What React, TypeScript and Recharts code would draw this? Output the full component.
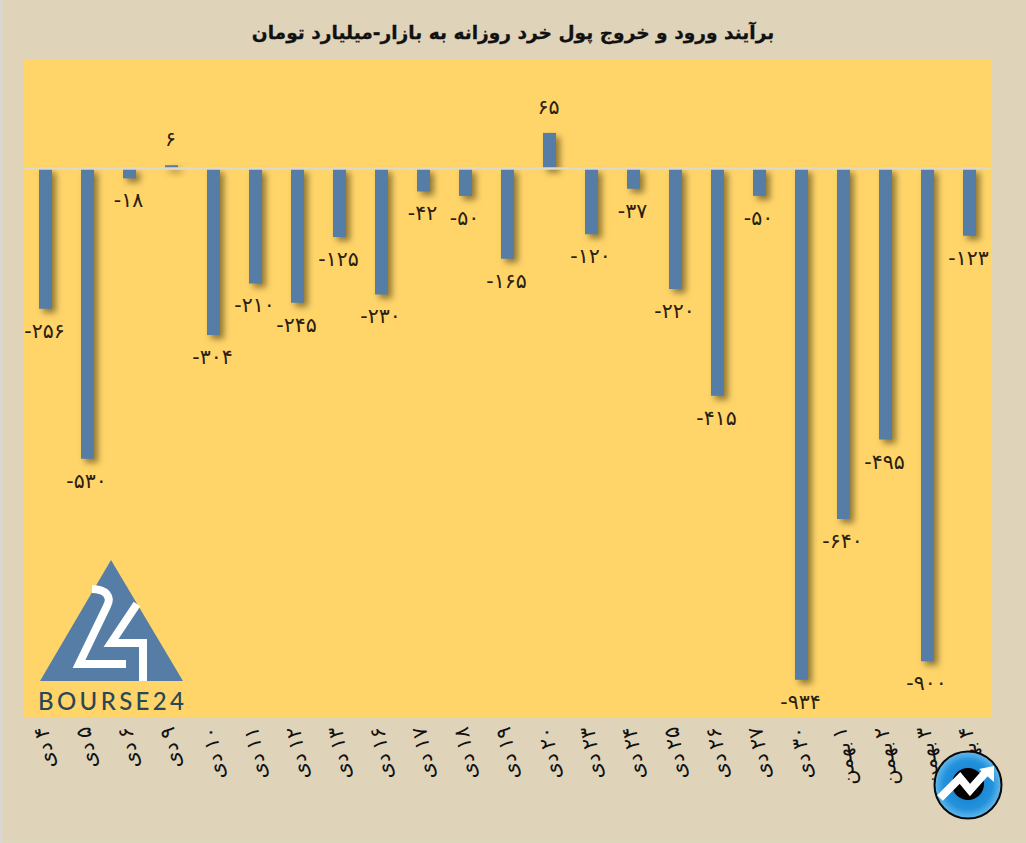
import React from "react";
import { BarChart, Bar, XAxis, YAxis, ReferenceLine, LabelList } from "recharts";

const categories = ["۴ دی","۵ دی","۶ دی","۹ دی","۱۰ دی","۱۱ دی","۱۲ دی","۱۳ دی","۱۶ دی","۱۷ دی","۱۸ دی","۱۹ دی","۲۰ دی","۲۳ دی","۲۴ دی","۲۵ دی","۲۶ دی","۲۷ دی","۳۰ دی","۱ بهمن","۲ بهمن","۳ بهمن","۴ بهمن"];
const values = [-256,-530,-18,6,-304,-210,-245,-125,-230,-42,-50,-165,65,-120,-37,-220,-415,-50,-934,-640,-495,-900,-123];
const TITLE = "برآیند ورود و خروج پول خرد روزانه به بازار-میلیارد تومان";
const data = categories.map((day, i) => ({ day, value: values[i] }));

const FONT = "'DejaVu Sans', sans-serif";
const fa = (v: number) => String(v).replace(/\d/g, (d) => "۰۱۲۳۴۵۶۷۸۹"[Number(d)]);

const Tick = (p: any) => (
  <text
    transform={`translate(${p.x - 4},${p.y + 3}) rotate(-100)`}
    textAnchor="start"
    direction="rtl"
    dominantBaseline="central"
    fontFamily={FONT}
    fontSize={21}
    wordSpacing={-2}
    fill="#111"
  >
    {p.payload.value}
  </text>
);

const ValueLabel = (p: any) => {
  const top = Math.min(p.y, p.y + p.height);
  const bottom = Math.max(p.y, p.y + p.height);
  const cx = p.x + p.width / 2 - 1;
  const y = p.value < 0 ? bottom + 22 : top - 26;
  return (
    <text x={cx} y={y} textAnchor="middle" dominantBaseline="central" direction="ltr" fontFamily={FONT} fontSize={20.5} letterSpacing={1.5} fill="#2a2010">
      {fa(p.value)}
    </text>
  );
};

const TriangleLogo = () => (
  <svg width={170} height={170} style={{ position: "absolute", left: 30, top: 550 }} viewBox="30 550 170 170">
    <polygon points="111,560 40,681 183,681" fill="#557DA6" />
    <path d="M92,589 C106,589 112,597 107,606 L79,664 L126,664" fill="none" stroke="#fff" strokeWidth={8} />
    <path d="M137,604 L111,643 L143,643 L143,681" fill="none" stroke="#fff" strokeWidth={8} />
    <text x={38} y={710} textLength={146} lengthAdjust="spacing" fontFamily="Lato, sans-serif" fontSize={24} fontWeight={500} fill="#2B4657">BOURSE24</text>
  </svg>
);

const CircleLogo = () => (
  <svg width={76} height={76} style={{ position: "absolute", left: 930, top: 747 }} viewBox="930 747 76 76">
    <defs>
      <radialGradient id="blueDisc" cx="50%" cy="50%" r="52%">
        <stop offset="0%" stopColor="#0F78C8" />
        <stop offset="70%" stopColor="#2392DC" />
        <stop offset="100%" stopColor="#6FC0EE" />
      </radialGradient>
    </defs>
    <circle cx={968} cy={785} r={33.5} fill="url(#blueDisc)" stroke="#0a0a0a" strokeWidth={2} />
    <circle cx={968} cy={784} r={16} fill="#000" />
    <path d="M940,798 L960,778 L970,790 L986,772" fill="none" stroke="#fff" strokeWidth={8} />
    <polygon points="994,766 979,769 994,782" fill="#fff" />
  </svg>
);

export default function App() {
  return (
    <div style={{ position: "absolute", left: 0, top: 0, width: 1026, height: 843, background: "#DFD4BA", overflow: "hidden", boxShadow: "inset 3px 0 3px -1px #d8d8d4" }}>
      <div style={{ position: "absolute", left: 24, top: 60, width: 968, height: 657, background: "#FFD469" }} />
      <div style={{ position: "absolute", left: 0, right: 0, top: 18, textAlign: "center", direction: "rtl", fontFamily: FONT, fontWeight: 700, fontSize: 18.6, lineHeight: "30px", color: "#111", WebkitTextStroke: "0.3px #111" }}>
        {TITLE}
      </div>
      <div style={{ position: "absolute", left: 0, top: 0 }}>
        <BarChart width={1026} height={843} data={data} margin={{ top: 59, right: 36, bottom: 0, left: 24 }} barCategoryGap={0}>
          <XAxis dataKey="day" interval={0} height={127} axisLine={false} tickLine={false} tick={<Tick />} />
          <YAxis hide domain={[-1000, 200]} />
          <ReferenceLine y={0} stroke="#DDD9CC" strokeWidth={2.5} />
          <Bar dataKey="value" barSize={13} fill="#557DA6" isAnimationActive={false} style={{ filter: "drop-shadow(4px 4px 3px rgba(70,60,20,0.6))" }}>
            <LabelList dataKey="value" content={<ValueLabel />} />
          </Bar>
        </BarChart>
      </div>
      <TriangleLogo />
      <CircleLogo />
    </div>
  );
}
